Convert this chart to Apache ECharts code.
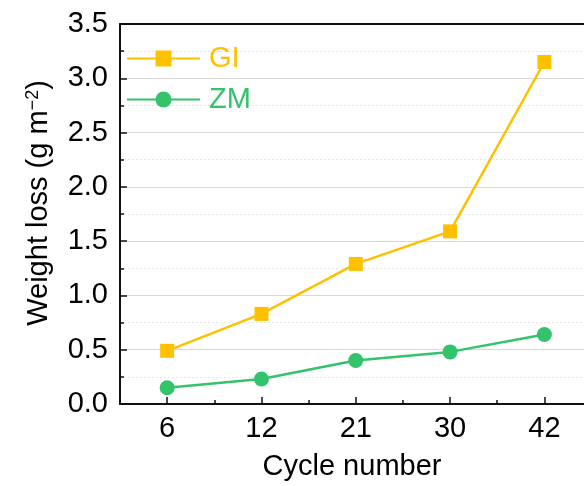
<!DOCTYPE html>
<html><head><meta charset="utf-8">
<script src="https://cdn.jsdelivr.net/npm/echarts@6/dist/echarts.min.js"></script>
<style>html,body{margin:0;padding:0;background:#fff}#c{width:584px;height:486px}</style>
</head><body><div id="c"></div>
<script>
var categories = ['6', '12', '21', '30', '42'];
var giValues = [0.49, 0.83, 1.29, 1.59, 3.15];
var zmValues = [0.15, 0.23, 0.40, 0.48, 0.64];
var yTicks = [0, 0.5, 1.0, 1.5, 2.0, 2.5, 3.0, 3.5];
var seriesNames = ['GI', 'ZM'];
var colors = ['#FFC000', '#33C46B'];
var FONT = 'Liberation Sans, Arial, sans-serif';

var catPos = categories.map(function (c, i) { return i + 1; });
var midPos = categories.slice(1).map(function (c, i) { return i + 1.5; });
function pairs(vals) { return vals.map(function (v, i) { return [catPos[i], v]; }); }

var X_MIN = 0.5, X_MAX = 5.42;
var chart = echarts.init(document.getElementById('c'), null, {renderer: 'canvas'});
chart.setOption({
  animation: false,
  grid: {left: 120, top: 24, right: 0, bottom: 82},
  legend: {
    left: 126, top: 44, padding: 0, orient: 'vertical', itemWidth: 73, itemHeight: 20, itemGap: 12,
    data: [
      {name: seriesNames[0], textStyle: {color: colors[0]}},
      {name: seriesNames[1], textStyle: {color: colors[1]}}
    ],
    textStyle: {fontFamily: FONT, fontSize: 29, padding: [0, 0, 0, 4]}
  },
  xAxis: [
    {type: 'value', min: X_MIN, max: X_MAX, position: 'bottom',
     name: 'Cycle number', nameLocation: 'middle', nameGap: 48,
     nameTextStyle: {fontFamily: FONT, fontSize: 29, color: '#000'},
     axisLine: {onZero: false, lineStyle: {color: '#111', width: 2}},
     axisTick: {show: true, inside: true, length: 7, customValues: catPos, lineStyle: {color: '#111', width: 1.5}},
     axisLabel: {fontFamily: FONT, fontSize: 29, color: '#000', margin: 10, customValues: catPos,
       formatter: function (v) { return categories[Math.round(v) - 1] || ''; }},
     splitLine: {show: false}},
    {type: 'value', min: X_MIN, max: X_MAX, position: 'bottom',
     axisLine: {show: false},
     axisTick: {show: true, inside: true, length: 4, customValues: midPos, lineStyle: {color: '#111', width: 1.5}},
     axisLabel: {show: false}, splitLine: {show: false}},
    {type: 'value', min: X_MIN, max: X_MAX, position: 'top',
     axisLine: {onZero: false, lineStyle: {color: '#111', width: 2}},
     axisTick: {show: false}, axisLabel: {show: false}, splitLine: {show: false}}
  ],
  yAxis: [{
    type: 'value', min: 0, max: 3.5, interval: 0.5,
    name: '{a|Weight loss (g m}{s|−2}{a|)}', nameLocation: 'middle', nameGap: 67,
    nameTextStyle: {fontFamily: FONT, fontSize: 29, color: '#000', padding: [0, 0, 0, 22],
      rich: {a: {fontFamily: FONT, fontSize: 29, color: '#000'},
             s: {fontFamily: FONT, fontSize: 18, color: '#000', verticalAlign: 'top', lineHeight: 29, padding: [0,0,14,0]}}},
    axisLine: {show: true, lineStyle: {color: '#111', width: 2}},
    axisTick: {show: true, inside: true, length: 7, lineStyle: {color: '#111', width: 1.5}},
    minorTick: {show: true, splitNumber: 2, length: 4, lineStyle: {color: '#111', width: 1.5}},
    axisLabel: {fontFamily: FONT, fontSize: 29, color: '#000', margin: 12,
      formatter: function (v) { return v.toFixed(1); }},
    splitLine: {show: true, lineStyle: {color: '#d9d9d9', width: 1}},
    minorSplitLine: {show: true, lineStyle: {color: '#e6e6e6', width: 1, type: [2, 2]}}
  }],
  series: [
    {name: seriesNames[0], type: 'line', data: pairs(giValues), xAxisIndex: 0, symbol: 'rect', symbolSize: 14,
     itemStyle: {color: colors[0]}, lineStyle: {color: colors[0], width: 2.5}},
    {name: seriesNames[1], type: 'line', data: pairs(zmValues), xAxisIndex: 0, symbol: 'circle', symbolSize: 15,
     itemStyle: {color: colors[1]}, lineStyle: {color: colors[1], width: 2.5}}
  ]
});
</script></body></html>
